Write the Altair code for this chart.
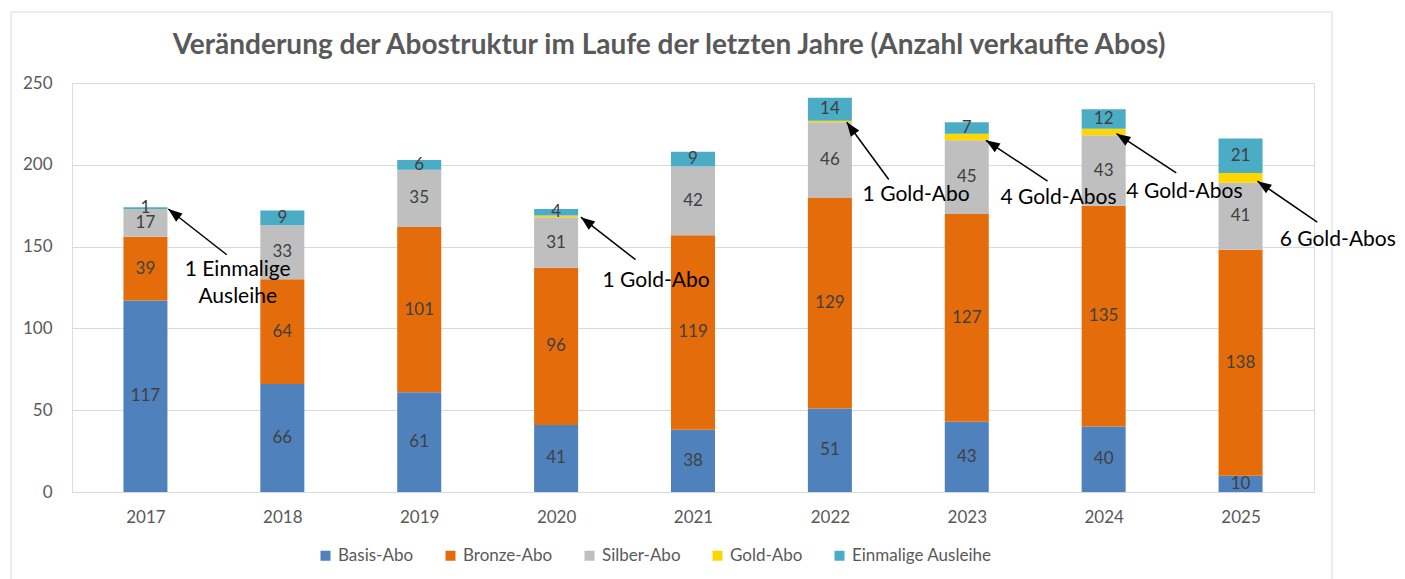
import math
import altair as alt
import pandas as pd

# ---------------- data ----------------
years = [2017, 2018, 2019, 2020, 2021, 2022, 2023, 2024, 2025]
basis = [117, 66, 61, 41, 38, 51, 43, 40, 10]
bronze = [39, 64, 101, 96, 119, 129, 127, 135, 138]
silber = [17, 33, 35, 31, 42, 46, 45, 43, 41]
gold = [0, 0, 0, 1, 0, 1, 4, 4, 6]
einmalig = [1, 9, 6, 4, 9, 14, 7, 12, 21]

series = ["Basis-Abo", "Bronze-Abo", "Silber-Abo", "Gold-Abo", "Einmalige Ausleihe"]
colors = ["#4F81BD", "#E46C0A", "#BFBFBF", "#FFD700", "#4BACC6"]
show_label = [True, True, True, False, True]

title_text = "Veränderung der Abostruktur im Laufe der letzten Jahre (Anzahl verkaufte Abos)"

# annotations (arrow tip, arrow tail, text lines)
ann_tip_x = [2017.167, 2020.181, 2022.123, 2023.14, 2024.094, 2025.123]
ann_tip_y = [173, 168, 226, 215, 219, 190]
ann_tail_x = [2017.594, 2020.58, 2022.43, 2023.59, 2024.53, 2025.56]
ann_tail_y = [145, 142, 191, 190, 195, 165]
ann_text_x = [2017.674, 2017.674, 2020.73, 2022.63, 2023.67, 2024.59, 2025.71]
ann_text_y = [136, 119, 129, 181.5, 180, 183.5, 154]
ann_text = ["1 Einmalige", "Ausleihe", "1 Gold-Abo", "1 Gold-Abo",
            "4 Gold-Abos", "4 Gold-Abos", "6 Gold-Abos"]

# ---------------- layout ----------------
W, H = 1242, 409
X_DOM = [2016.5, 2025.5]
Y_DOM = [0, 250]
PX_X = W / (X_DOM[1] - X_DOM[0])
PX_Y = H / (Y_DOM[1] - Y_DOM[0])
FONT = "Lato"
GRAY = "#595959"

# ---------------- tables ----------------
rows = []
values = [basis, bronze, silber, gold, einmalig]
for i, y in enumerate(years):
    base = 0
    for s, name in enumerate(series):
        v = values[s][i]
        rows.append({"Jahr": y, "Serie": name, "order": s, "Wert": v,
                     "y0": base, "y1": base + v, "mid": base + v / 2,
                     "label": str(v) if (show_label[s] and v > 0) else ""})
        base += v
df = pd.DataFrame(rows)
df_bars = df[df["Wert"] > 0]

arrows = []
for tx, ty, ax_, ay in zip(ann_tip_x, ann_tip_y, ann_tail_x, ann_tail_y):
    dx = (tx - ax_) * PX_X
    dy = -(ty - ay) * PX_Y
    ang = math.degrees(math.atan2(dx, -dy)) % 360
    arrows.append({"tx": tx, "ty": ty, "ax": ax_, "ay": ay, "angle": ang})
df_arrows = pd.DataFrame(arrows)
df_text = pd.DataFrame({"x": ann_text_x, "y": ann_text_y, "t": ann_text})

xscale = alt.Scale(domain=X_DOM, nice=False, zero=False)
yscale = alt.Scale(domain=Y_DOM, nice=False)

bars = alt.Chart(df_bars).mark_bar(size=44).encode(
    x=alt.X("Jahr:Q", scale=xscale,
            axis=alt.Axis(values=years, format="d", title=None, grid=False,
                          ticks=False, domainColor="#D9D9D9", labelFontSize=17,
                          labelColor=GRAY, labelFont=FONT, labelPadding=17)),
    y=alt.Y("y1:Q", scale=yscale,
            axis=alt.Axis(values=[0, 50, 100, 150, 200, 250], title=None,
                          domain=False, ticks=False,
                          labelPadding=20, gridColor="#D9D9D9",
                          labelFontSize=17, labelColor=GRAY, labelFont=FONT)),
    y2="y0:Q",
    color=alt.Color("Serie:N", scale=alt.Scale(domain=series, range=colors),
                    legend=alt.Legend(title=None, orient="none", direction="horizontal",
                                      legendX=245, legendY=464, symbolType="square",
                                      symbolSize=100, symbolStrokeWidth=0,
                                      labelFontSize=17, labelColor=GRAY, labelFont=FONT,
                                      columnPadding=28, columns=5)),
    order="order:Q",
)

labels = alt.Chart(df_bars[df_bars["label"] != ""]).mark_text(
    fontSize=17, color="#404040", font=FONT, baseline="middle"
).encode(x=alt.X("Jahr:Q", scale=xscale), y=alt.Y("mid:Q", scale=yscale), text="label:N")

lines = alt.Chart(df_arrows).mark_rule(color="black", strokeWidth=1.5).encode(
    x=alt.X("ax:Q", scale=xscale), y=alt.Y("ay:Q", scale=yscale),
    x2="tx:Q", y2="ty:Q")

heads = alt.Chart(df_arrows).mark_point(
    shape="M0,0 L-0.75,2 L0.75,2 Z", filled=True, color="black", opacity=1,
    size=196, strokeWidth=0
).encode(x=alt.X("tx:Q", scale=xscale), y=alt.Y("ty:Q", scale=yscale),
         angle=alt.Angle("angle:Q", scale=None))

ann = alt.Chart(df_text).mark_text(fontSize=21, color="black", font=FONT,
                                   baseline="middle").encode(
    x=alt.X("x:Q", scale=xscale), y=alt.Y("y:Q", scale=yscale), text="t:N")

frame = alt.Chart(pd.DataFrame({"k": [0]})).mark_rect(
    fill=None, stroke="#D9D9D9", strokeWidth=1
).encode(x=alt.value(-61), x2=alt.value(1260), y=alt.value(-71), y2=alt.value(520))

title = alt.Chart(pd.DataFrame({"t": [title_text]})).mark_text(
    fontSize=28, font=FONT, fontWeight="bold", color=GRAY,
    align="center", baseline="alphabetic"
).encode(x=alt.value(597), y=alt.value(-29), text="t:N")

chart = alt.layer(frame, title, bars, labels, lines, heads, ann).properties(
    width=W, height=H,
    autosize=alt.AutoSizeParams(type="none"),
    padding={"left": 72, "top": 83, "right": 91, "bottom": 87},
).configure_view(stroke=None).configure(background="white")

chart.save("out.html", embed_options={"renderer": "svg", "actions": False})
